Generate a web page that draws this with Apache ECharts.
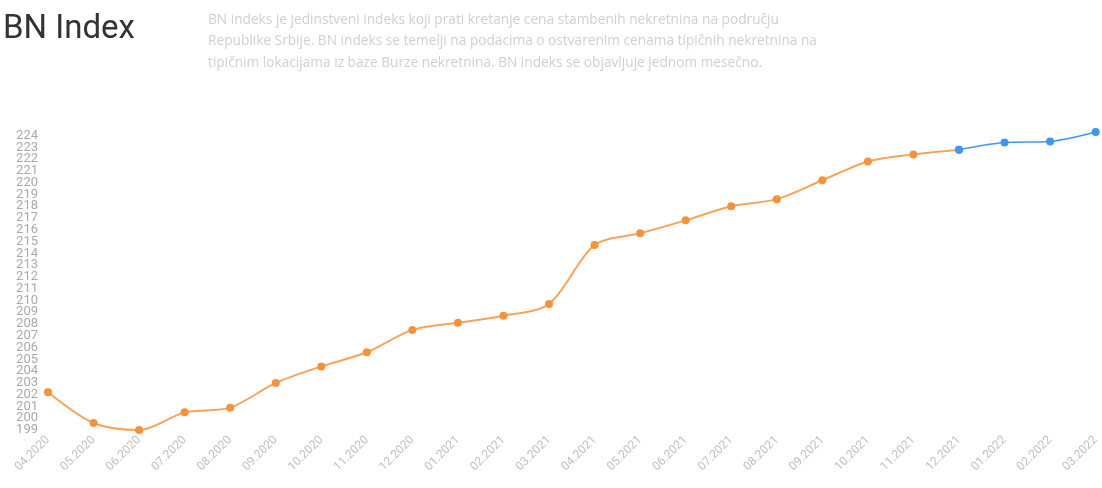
<!DOCTYPE html>
<html>
<head>
<meta charset="utf-8">
<script src="https://cdn.jsdelivr.net/npm/echarts@6/dist/echarts.min.js"></script>
<style>
  html, body { margin: 0; padding: 0; background: #fff; }
  #chart { width: 1102px; height: 488px; }
</style>
</head>
<body>
<div id="chart"></div>
<script>
const months = ['04.2020','05.2020','06.2020','07.2020','08.2020','09.2020','10.2020','11.2020','12.2020',
  '01.2021','02.2021','03.2021','04.2021','05.2021','06.2021','07.2021','08.2021','09.2021','10.2021','11.2021','12.2021',
  '01.2022','02.2022','03.2022'];
// 04.2020 .. 12.2021
const historicalValues = [202.2, 199.6, 199.0, 200.5, 200.9, 203.0, 204.4, 205.6, 207.5,
  208.1, 208.7, 209.7, 214.7, 215.7, 216.8, 218.0, 218.6, 220.2, 221.8, 222.4, 222.8];
// 12.2021 .. 03.2022
const recentValues = [222.8, 223.4, 223.5, 224.3];
const firstLabelValue = 199;

const titleText = 'BN Index';
const subtitleText = 'BN indeks je jedinstveni indeks koji prati kretanje cena stambenih nekretnina na području\n' +
  'Republike Srbije. BN indeks se temelji na podacima o ostvarenim cenama tipičnih nekretnina na\n' +
  'tipičnim lokacijama iz baze Burze nekretnina. BN indeks se objavljuje jednom mesečno.';

const histData = months.map((m, i) => i < historicalValues.length ? historicalValues[i] : '-');
const recentStart = months.length - recentValues.length;
const recentData = months.map((m, i) => i >= recentStart ? recentValues[i - recentStart] : '-');

const chart = echarts.init(document.getElementById('chart'));
chart.setOption({
  backgroundColor: '#ffffff',
  animation: false,
  title: [
    { text: titleText, left: -2, top: 8,
      textStyle: { fontFamily: 'Roboto', fontSize: 33, fontWeight: 'normal', color: '#333333' } },
    { text: subtitleText, left: 203, top: 4,
      textStyle: { fontFamily: 'Open Sans', fontSize: 13.7, fontWeight: 'normal', color: '#d0d0d0', lineHeight: 21.5 } }
  ],
  grid: { left: 48, right: 3, top: 132, bottom: 46.2, containLabel: false },
  xAxis: {
    type: 'category',
    data: months,
    boundaryGap: false,
    axisLine: { show: false },
    axisTick: { show: false },
    splitLine: { show: false },
    axisLabel: { interval: 0, rotate: 45, margin: -3.8, color: '#c0c0c0', fontSize: 12, fontFamily: 'Roboto' }
  },
  yAxis: {
    type: 'value',
    min: 198,
    max: 224.3,
    interval: 1,
    axisLine: { show: false },
    axisTick: { show: false },
    splitLine: { show: false },
    axisLabel: {
      margin: 10, showMinLabel: false, hideOverlap: false,
      color: '#aaaaaa', fontSize: 13, fontFamily: 'Roboto',
      formatter: v => (Number.isInteger(v) && v >= firstLabelValue) ? String(v) : ' '
    }
  },
  series: [
    {
      type: 'line',
      data: histData,
      smooth: 0.3,
      symbol: 'circle',
      symbolSize: 8,
      lineStyle: { width: 2, color: '#f7a45a' },
      itemStyle: { color: '#f7913b' },
      z: 2
    },
    {
      type: 'line',
      data: recentData,
      smooth: 0.3,
      symbol: 'circle',
      symbolSize: 8,
      lineStyle: { width: 1.5, color: '#3d97f2' },
      itemStyle: { color: '#3d97f2' },
      z: 3
    }
  ]
});
</script>
</body>
</html>
